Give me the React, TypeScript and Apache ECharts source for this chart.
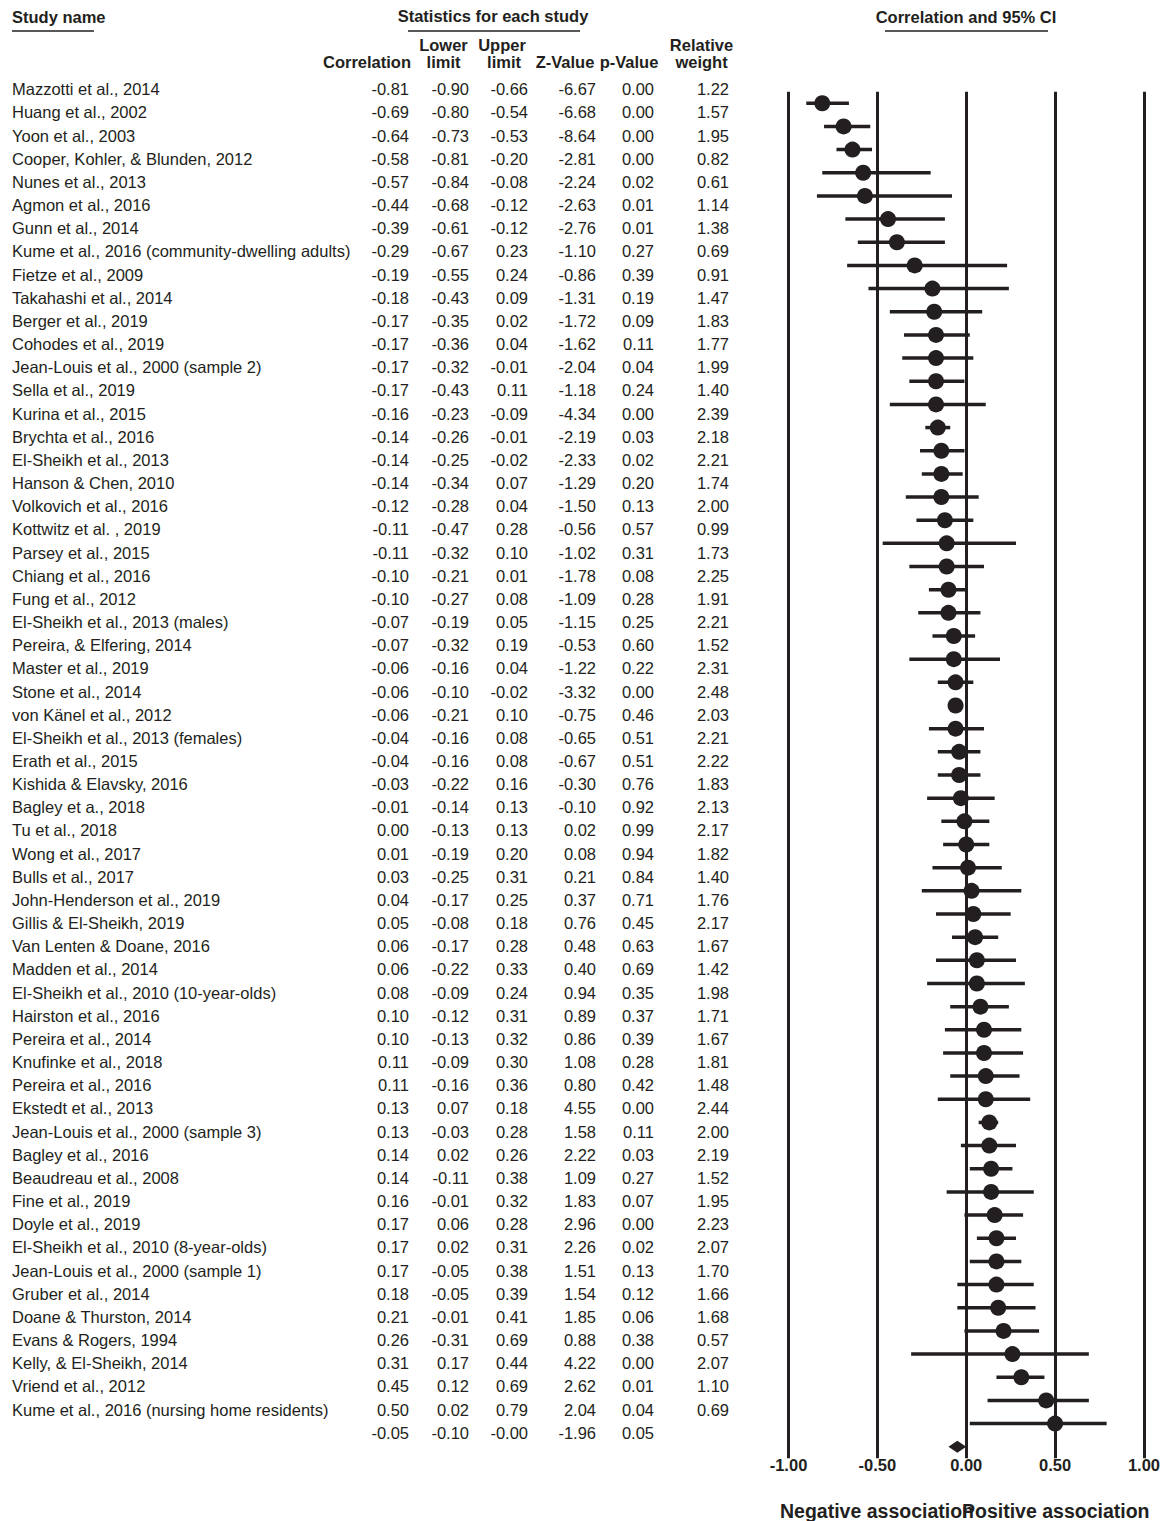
import React, { useEffect, useRef } from "react";
import * as echarts from "echarts";

const studies: string[] = [
  "Mazzotti et al., 2014",
  "Huang et al., 2002",
  "Yoon et al., 2003",
  "Cooper, Kohler, & Blunden, 2012",
  "Nunes et al., 2013",
  "Agmon et al., 2016",
  "Gunn et al., 2014",
  "Kume et al., 2016 (community-dwelling adults)",
  "Fietze et al., 2009",
  "Takahashi et al., 2014",
  "Berger et al., 2019",
  "Cohodes et al., 2019",
  "Jean-Louis et al., 2000 (sample 2)",
  "Sella et al., 2019",
  "Kurina et al., 2015",
  "Brychta et al., 2016",
  "El-Sheikh et al., 2013",
  "Hanson & Chen, 2010",
  "Volkovich et al., 2016",
  "Kottwitz et al. , 2019",
  "Parsey et al., 2015",
  "Chiang et al., 2016",
  "Fung et al., 2012",
  "El-Sheikh et al., 2013 (males)",
  "Pereira, & Elfering, 2014",
  "Master et al., 2019",
  "Stone et al., 2014",
  "von Känel et al., 2012",
  "El-Sheikh et al., 2013 (females)",
  "Erath et al., 2015",
  "Kishida & Elavsky, 2016",
  "Bagley et a., 2018",
  "Tu et al., 2018",
  "Wong et al., 2017",
  "Bulls et al., 2017",
  "John-Henderson et al., 2019",
  "Gillis & El-Sheikh, 2019",
  "Van Lenten & Doane, 2016",
  "Madden et al., 2014",
  "El-Sheikh et al., 2010 (10-year-olds)",
  "Hairston et al., 2016",
  "Pereira et al., 2014",
  "Knufinke et al., 2018",
  "Pereira et al., 2016",
  "Ekstedt et al., 2013",
  "Jean-Louis et al., 2000 (sample 3)",
  "Bagley et al., 2016",
  "Beaudreau et al., 2008",
  "Fine et al., 2019",
  "Doyle et al., 2019",
  "El-Sheikh et al., 2010 (8-year-olds)",
  "Jean-Louis et al., 2000 (sample 1)",
  "Gruber et al., 2014",
  "Doane & Thurston, 2014",
  "Evans & Rogers, 1994",
  "Kelly, & El-Sheikh, 2014",
  "Vriend et al., 2012",
  "Kume et al., 2016 (nursing home residents)",
];

const correlation: number[] = [
  -0.81, -0.69, -0.64, -0.58, -0.57, -0.44, -0.39, -0.29, -0.19, -0.18,
  -0.17, -0.17, -0.17, -0.17, -0.16, -0.14, -0.14, -0.14, -0.12, -0.11,
  -0.11, -0.10, -0.10, -0.07, -0.07, -0.06, -0.06, -0.06, -0.04, -0.04,
  -0.03, -0.01, 0.00, 0.01, 0.03, 0.04, 0.05, 0.06, 0.06, 0.08,
  0.10, 0.10, 0.11, 0.11, 0.13, 0.13, 0.14, 0.14, 0.16, 0.17,
  0.17, 0.17, 0.18, 0.21, 0.26, 0.31, 0.45, 0.50,
];

const lowerLimit: number[] = [
  -0.90, -0.80, -0.73, -0.81, -0.84, -0.68, -0.61, -0.67, -0.55, -0.43,
  -0.35, -0.36, -0.32, -0.43, -0.23, -0.26, -0.25, -0.34, -0.28, -0.47,
  -0.32, -0.21, -0.27, -0.19, -0.32, -0.16, -0.10, -0.21, -0.16, -0.16,
  -0.22, -0.14, -0.13, -0.19, -0.25, -0.17, -0.08, -0.17, -0.22, -0.09,
  -0.12, -0.13, -0.09, -0.16, 0.07, -0.03, 0.02, -0.11, -0.01, 0.06,
  0.02, -0.05, -0.05, -0.01, -0.31, 0.17, 0.12, 0.02,
];

const upperLimit: number[] = [
  -0.66, -0.54, -0.53, -0.20, -0.08, -0.12, -0.12, 0.23, 0.24, 0.09,
  0.02, 0.04, -0.01, 0.11, -0.09, -0.01, -0.02, 0.07, 0.04, 0.28,
  0.10, 0.01, 0.08, 0.05, 0.19, 0.04, -0.02, 0.10, 0.08, 0.08,
  0.16, 0.13, 0.13, 0.20, 0.31, 0.25, 0.18, 0.28, 0.33, 0.24,
  0.31, 0.32, 0.30, 0.36, 0.18, 0.28, 0.26, 0.38, 0.32, 0.28,
  0.31, 0.38, 0.39, 0.41, 0.69, 0.44, 0.69, 0.79,
];

const zValue: number[] = [
  -6.67, -6.68, -8.64, -2.81, -2.24, -2.63, -2.76, -1.10, -0.86, -1.31,
  -1.72, -1.62, -2.04, -1.18, -4.34, -2.19, -2.33, -1.29, -1.50, -0.56,
  -1.02, -1.78, -1.09, -1.15, -0.53, -1.22, -3.32, -0.75, -0.65, -0.67,
  -0.30, -0.10, 0.02, 0.08, 0.21, 0.37, 0.76, 0.48, 0.40, 0.94,
  0.89, 0.86, 1.08, 0.80, 4.55, 1.58, 2.22, 1.09, 1.83, 2.96,
  2.26, 1.51, 1.54, 1.85, 0.88, 4.22, 2.62, 2.04,
];

const pValue: number[] = [
  0.00, 0.00, 0.00, 0.00, 0.02, 0.01, 0.01, 0.27, 0.39, 0.19,
  0.09, 0.11, 0.04, 0.24, 0.00, 0.03, 0.02, 0.20, 0.13, 0.57,
  0.31, 0.08, 0.28, 0.25, 0.60, 0.22, 0.00, 0.46, 0.51, 0.51,
  0.76, 0.92, 0.99, 0.94, 0.84, 0.71, 0.45, 0.63, 0.69, 0.35,
  0.37, 0.39, 0.28, 0.42, 0.00, 0.11, 0.03, 0.27, 0.07, 0.00,
  0.02, 0.13, 0.12, 0.06, 0.38, 0.00, 0.01, 0.04,
];

const relativeWeight: number[] = [
  1.22, 1.57, 1.95, 0.82, 0.61, 1.14, 1.38, 0.69, 0.91, 1.47,
  1.83, 1.77, 1.99, 1.40, 2.39, 2.18, 2.21, 1.74, 2.00, 0.99,
  1.73, 2.25, 1.91, 2.21, 1.52, 2.31, 2.48, 2.03, 2.21, 2.22,
  1.83, 2.13, 2.17, 1.82, 1.40, 1.76, 2.17, 1.67, 1.42, 1.98,
  1.71, 1.67, 1.81, 1.48, 2.44, 2.00, 2.19, 1.52, 1.95, 2.23,
  2.07, 1.70, 1.66, 1.68, 0.57, 2.07, 1.10, 0.69,
];

// summary row: correlation, lower, upper, Z, p
const summaryStats: number[] = [-0.05, -0.10, -0.00, -1.96, 0.05];

const xTicks: number[] = [-1, -0.5, 0, 0.5, 1];

const INK = "#231f20";
const FONT = "'Liberation Sans', Arial, Helvetica, sans-serif";
const FS = 16.5;

const fmt = (v: number) => (Object.is(v, -0) ? "-0.00" : v.toFixed(2));

export default function App() {
  const ref = useRef<HTMLDivElement>(null);

  useEffect(() => {
    if (!ref.current) return;
    const chart = echarts.init(ref.current, undefined, { renderer: "svg" });
    const n = studies.length;
    const rows = n + 1;

    const tableCols = [409, 469, 528, 596, 654, 729];

    const tableData = studies.map((_, i) => [i]);
    tableData.push([n]);

    const ciData = studies.map((_, i) => [lowerLimit[i], upperLimit[i], i]);
    const dotData = studies.map((_, i) => [correlation[i], i]);
    const diamondData = [[summaryStats[0], summaryStats[1], summaryStats[2], n]];

    const gridTop = 91.7;
    const gridHeight = 1366.6;
    const tableShift = 14;

    const txt = (
      text: string,
      x: number,
      y: number,
      align: string,
      bold = false,
      size = FS
    ) => ({
      type: "text",
      x,
      y,
      silent: true,
      style: {
        text,
        fill: INK,
        font: `${bold ? "bold " : ""}${size}px ${FONT}`,
        align,
        verticalAlign: "middle",
        textAlign: align,
        textVerticalAlign: "middle",
      },
    });

    const option: any = {
      animation: false,
      backgroundColor: "#ffffff",
      grid: [
        { left: 788.5, right: 18.7, top: gridTop, height: gridHeight, containLabel: false },
        { left: 0, right: 0, top: gridTop - tableShift, height: gridHeight, containLabel: false },
      ],
      xAxis: [
        {
          gridIndex: 0,
          type: "value",
          min: -1,
          max: 1,
          interval: 0.5,
          axisLine: { show: false },
          axisTick: { show: false },
          splitLine: { show: true, lineStyle: { color: INK, width: 3 } },
          axisLabel: {
            show: true,
            margin: -2,
            color: INK,
            fontWeight: "bold",
            fontSize: FS,
            fontFamily: FONT,
            formatter: (v: number) => (xTicks.includes(v) ? v.toFixed(2) : ""),
          },
        },
        { gridIndex: 1, type: "value", min: 0, max: 1163, show: false },
      ],
      yAxis: [
        { gridIndex: 0, type: "value", min: -0.5, max: rows - 0.5, inverse: true, show: false },
        { gridIndex: 1, type: "value", min: -0.5, max: rows - 0.5, inverse: true, show: false },
      ],
      series: [
        {
          type: "custom",
          xAxisIndex: 0,
          yAxisIndex: 0,
          data: ciData,
          renderItem: (_p: any, api: any) => {
            const a = api.coord([api.value(0), api.value(2)]);
            const b = api.coord([api.value(1), api.value(2)]);
            return {
              type: "line",
              shape: { x1: a[0], y1: a[1], x2: b[0], y2: b[1] },
              style: { stroke: INK, lineWidth: 3.5 },
            };
          },
        },
        {
          type: "scatter",
          xAxisIndex: 0,
          yAxisIndex: 0,
          data: dotData,
          symbol: "circle",
          symbolSize: 16,
          itemStyle: { color: INK, opacity: 1 },
          emphasis: { disabled: true },
        },
        {
          type: "custom",
          xAxisIndex: 0,
          yAxisIndex: 0,
          data: diamondData,
          renderItem: (_p: any, api: any) => {
            const c = api.coord([api.value(0), api.value(3)]);
            const l = api.coord([api.value(1), api.value(3)]);
            const r = api.coord([api.value(2), api.value(3)]);
            return {
              type: "polygon",
              shape: {
                points: [
                  [l[0], l[1]],
                  [c[0], c[1] - 6],
                  [r[0], r[1]],
                  [c[0], c[1] + 6],
                ],
              },
              style: { fill: INK },
            };
          },
        },
        {
          type: "custom",
          xAxisIndex: 1,
          yAxisIndex: 1,
          data: tableData,
          clip: false,
          renderItem: (_p: any, api: any) => {
            const i = api.value(0);
            const y = api.coord([0, i])[1];
            const colX = (k: number) => api.coord([tableCols[k], i])[0];
            const children: any[] = [];
            if (i < n) {
              children.push(txt(studies[i], api.coord([12, i])[0], y, "left"));
              const vals = [
                correlation[i],
                lowerLimit[i],
                upperLimit[i],
                zValue[i],
                pValue[i],
                relativeWeight[i],
              ];
              vals.forEach((v, k) => children.push(txt(fmt(v), colX(k), y, "right")));
            } else {
              summaryStats.forEach((v, k) => children.push(txt(fmt(v), colX(k), y, "right")));
            }
            return { type: "group", children };
          },
        },
      ],
      graphic: [
        txt("Study name", 12, 16.5, "left", true),
        { type: "line", silent: true, shape: { x1: 12, y1: 31, x2: 94, y2: 31 }, style: { stroke: INK, lineWidth: 1.5 } },
        txt("Statistics for each study", 493, 16, "center", true),
        { type: "line", silent: true, shape: { x1: 408, y1: 31, x2: 580, y2: 31 }, style: { stroke: INK, lineWidth: 1.5 } },
        txt("Correlation and 95% CI", 966, 16.5, "center", true),
        { type: "line", silent: true, shape: { x1: 885, y1: 31, x2: 1048, y2: 31 }, style: { stroke: INK, lineWidth: 1.5 } },
        txt("Lower", 443.5, 45, "center", true),
        txt("Upper", 502, 45, "center", true),
        txt("Relative", 701.5, 45, "center", true),
        txt("Correlation", 411, 62, "right", true),
        txt("limit", 443.5, 62, "center", true),
        txt("limit", 504, 62, "center", true),
        txt("Z-Value", 565, 62, "center", true),
        txt("p-Value", 629, 62, "center", true),
        txt("weight", 701.5, 62, "center", true),
        txt("Negative association", 974, 1510.5, "right", true, 19.5),
        txt("Positive association", 962, 1510.5, "left", true, 19.5),
      ],
    };

    chart.setOption(option);
    return () => chart.dispose();
  }, []);

  return (
    <div
      ref={ref}
      style={{ position: "absolute", left: 0, top: 0, width: 1163, height: 1521, background: "#fff" }}
    />
  );
}
